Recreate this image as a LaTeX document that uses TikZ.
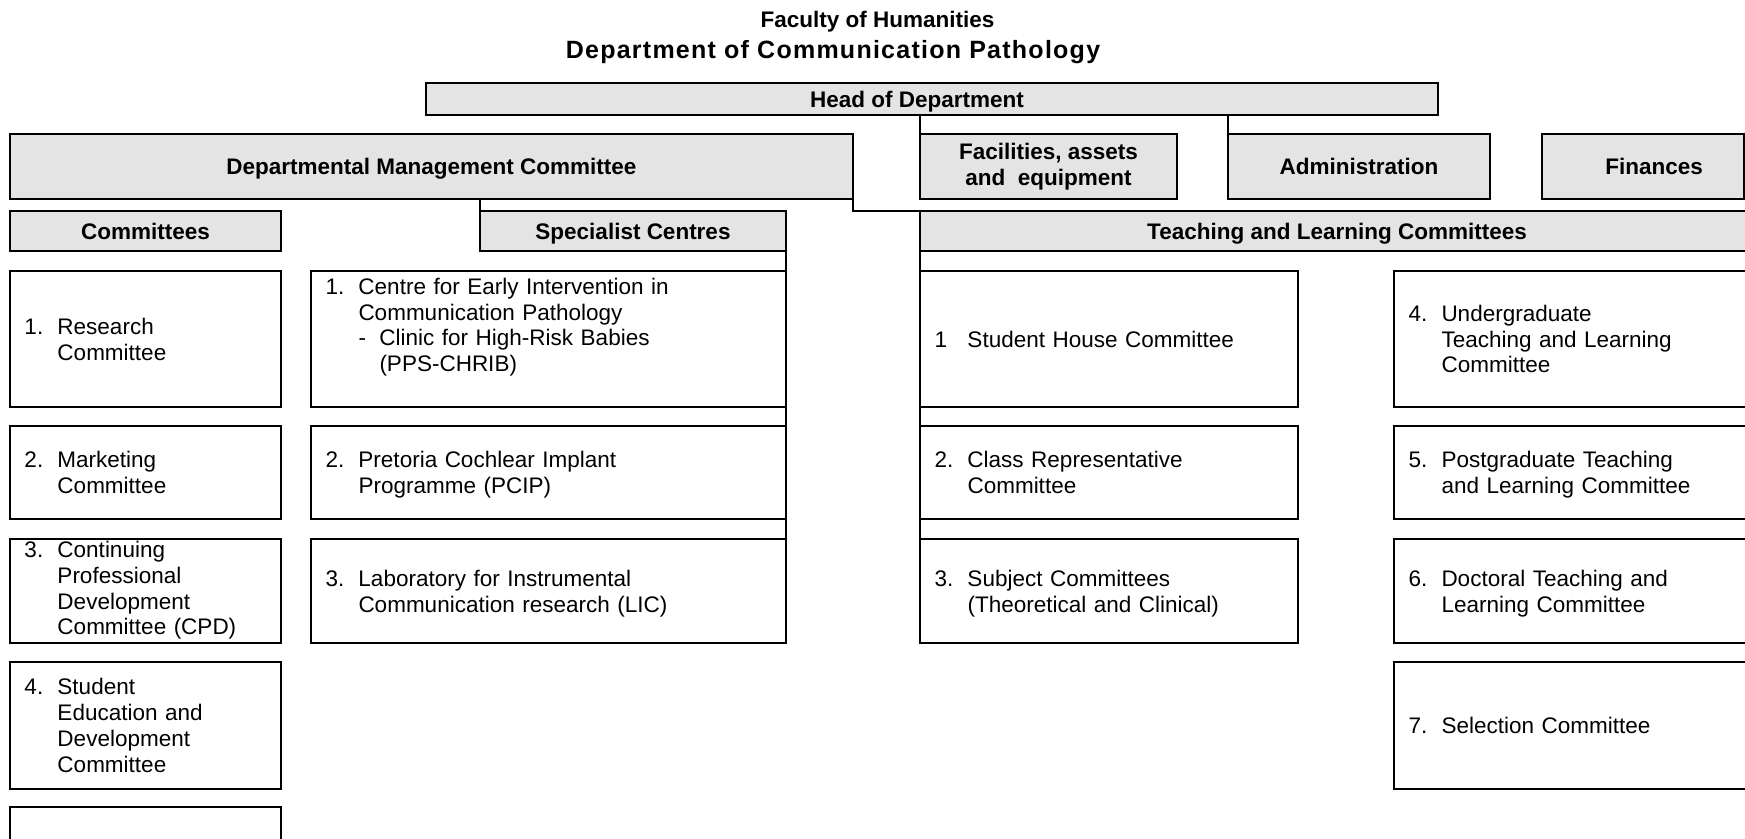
\documentclass[tikz,border=0pt]{standalone}
\usepackage{fontspec}
\setmainfont{Liberation Sans}
\usepackage{array}
\definecolor{hdrgray}{RGB}{228,228,228}
\newcommand\hbx[7]{\node[#2, minimum width={(#5-#3)*0.5pt}, minimum height={(#6-#4)*0.5pt}] (#1) at ({(#3+#5)/2},{(#4+#6)/2}) {#7};}
\newcommand\ibx[7]{\pgfmathsetlengthmacro\itw{(#5-#3)*0.5pt-14.5pt}\node[#2, text width=\itw, minimum width={(#5-#3)*0.5pt}, minimum height={(#6-#4)*0.5pt}] (#1) at ({(#3+#5)/2},{(#4+#6)/2}) {#7};}
\newcommand\lst[3][3pt]{\begin{tabular}{@{}p{16.5pt}@{}l@{}}\noalign{\vskip#1}#2&#3\end{tabular}}
\tikzset{
  txt/.style={font=\fontsize{11.25}{12.9}\selectfont},
  hdr/.style={txt, font=\fontsize{11.25}{12.9}\selectfont\bfseries, draw, fill=hdrgray, line width=1pt, outer sep=0pt, inner sep=0pt, align=center},
  hdrone/.style={hdr, text height=10.5pt, text depth=2.44pt},
  itm/.style={txt, draw, fill=white, line width=1pt, outer sep=0pt, inner xsep=7.25pt, inner ysep=0pt, align=left},
  conn/.style={line width=0.9pt},
  ttl/.style={font=\fontsize{11.25}{12.9}\selectfont\bfseries, anchor=base, inner sep=0pt}
}
\begin{document}
\begin{tikzpicture}[x=0.5pt,y=-0.5pt]
\useasboundingbox (0,0) rectangle (1745,839);
\clip (0,0) rectangle (1745,839);
\node[ttl] (fac1) at (877.5,27.5) {Faculty of Humanities};
\node[ttl, font=\fontsize{12.5}{14}\selectfont\bfseries] (dep1) at (833,59) {\addfontfeature{LetterSpace=5}Department of Communication Pathology};
% header boxes
\hbx{head}{hdrone}{426}{83}{1438}{115}{Head of Department\hspace*{15pt}}
\hbx{dmc}{hdrone}{10}{134}{853}{199}{Departmental Management Committee}
\hbx{fac}{hdr}{920}{134}{1177}{199}{Facilities, assets\\and~ equipment}
\hbx{adm}{hdrone}{1228}{134}{1490}{199}{Administration}
\hbx{fin}{hdrone}{1542}{134}{1744}{199}{\hspace*{11pt}Finances}
\hbx{com}{hdrone}{10}{211}{281}{251}{Committees}
\hbx{spc}{hdrone}{480}{211}{786}{251}{Specialist Centres}
\hbx{tlc}{hdrone}{920}{211}{1754}{251}{Teaching and Learning Committees}
% committees
\ibx{c1}{itm}{10}{271}{281}{407}{\lst{1.}{Research\\&Committee}}
\ibx{c2}{itm}{10}{426}{281}{519}{\lst{2.}{Marketing\\&Committee}}
\ibx{c3}{itm}{10}{539}{281}{643}{\lst[0pt]{3.}{Continuing\\&Professional\\&Development\\&Committee (CPD)}}
\ibx{c4}{itm}{10}{662}{281}{789}{\lst{4.}{Student\\&Education and\\&Development\\&Committee}}
\ibx{c5}{itm}{10}{807}{281}{880}{}
% specialist centres
\ibx{s1}{itm}{311}{271}{786}{407}{\lst[0pt]{1.}{Centre for Early Intervention in\\&Communication Pathology\\&\makebox[10.5pt][l]{-}Clinic for High-Risk Babies\\&\hspace*{10.5pt}(PPS-CHRIB)\\[11.2pt]}}
\ibx{s2}{itm}{311}{426}{786}{519}{\lst{2.}{Pretoria Cochlear Implant\\&Programme (PCIP)}}
\ibx{s3}{itm}{311}{539}{786}{643}{\lst{3.}{Laboratory for Instrumental\\&Communication research (LIC)}}
% teaching and learning
\ibx{t1}{itm}{920}{271}{1298}{407}{\lst{1}{Student House Committee}}
\ibx{t2}{itm}{920}{426}{1298}{519}{\lst{2.}{Class Representative\\&Committee}}
\ibx{t3}{itm}{920}{539}{1298}{643}{\lst{3.}{Subject Committees\\&(Theoretical and Clinical)}}
\ibx{u4}{itm}{1394}{271}{1760}{407}{\lst{4.}{Undergraduate\\&Teaching and Learning\\&Committee}}
\ibx{u5}{itm}{1394}{426}{1760}{519}{\lst{5.}{Postgraduate Teaching\\&and Learning Committee}}
\ibx{u6}{itm}{1394}{539}{1760}{643}{\lst{6.}{Doctoral Teaching and\\&Learning Committee}}
\ibx{u7}{itm}{1394}{662}{1760}{789}{\lst{7.}{Selection Committee}}
% connectors
\draw[conn] (head.south -| fac.north west) -- (fac.north west);
\draw[conn] (head.south -| adm.north west) -- (adm.north west);
\draw[conn] (dmc.south east) -- (dmc.south east |- tlc.north) -- (tlc.north west);
\draw[conn] (dmc.south -| spc.north west) -- (spc.north west);
\draw[conn] (spc.south east) -- (s3.north east);
\draw[conn] (tlc.south west) -- (t3.north west);
\end{tikzpicture}
\end{document}
